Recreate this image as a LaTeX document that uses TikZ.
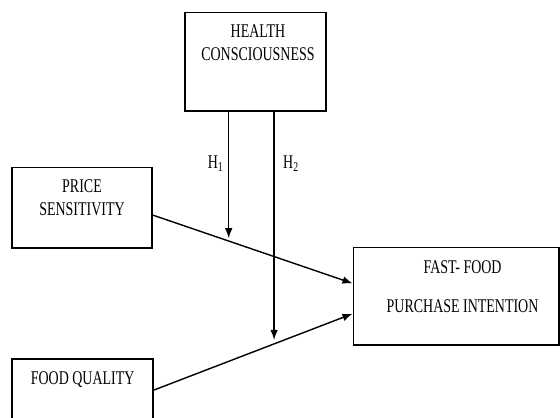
\documentclass[tikz,border=0pt]{standalone}
\usepackage{fontspec}
\setmainfont[FakeStretch=0.72]{Liberation Serif}
\usetikzlibrary{arrows.meta,positioning}

\begin{document}
\begin{tikzpicture}[
  box/.style={draw, rectangle, line width=1.2pt, inner sep=0pt},
  txt/.style={align=center, inner sep=0pt, font=\fontsize{13.8pt}{16.3pt}\selectfont},
  edge/.style={-{Latex[length=2.5mm,width=1.9mm]}, line width=1pt},
  hyp/.style={inner sep=1pt, font=\fontsize{13.8pt}{16pt}\selectfont}
]
\clip (0,0) rectangle (14,-10.45);

% Construct boxes
\node[box, minimum width=3.525cm, minimum height=2.46cm] (health) at (6.39,-1.546) {};
\node[box, minimum width=3.515cm, minimum height=2.005cm] (price) at (2.05,-5.19) {};
\node[box, minimum width=5.14cm, minimum height=2.44cm] (fast) at (11.404,-7.404) {};
\node[box, minimum width=3.53cm, minimum height=2cm] (food) at (2.066,-9.975) {};

% Box texts (top aligned)
\node[txt, below=0.32cm of health.north, xshift=0.06cm] (healthtxt) {HEALTH\\CONSCIOUSNESS};
\node[txt, below=0.32cm of price.north] (pricetxt) {PRICE\\SENSITIVITY};
\node[txt, below=0.335cm of fast.north, xshift=0.16cm] (fasttxt) {FAST- FOOD\\[11.9pt]PURCHASE INTENTION};
\node[txt, below=0.32cm of food.north] (foodtxt) {FOOD QUALITY};

% Direct paths
\draw[edge] ([yshift=-0.19cm]price.east) -- ([yshift=0.32cm]fast.west)
  coordinate[pos=0.379] (m1);
\draw[edge] ([yshift=0.225cm]food.east) -- ([yshift=-0.44cm]fast.west)
  coordinate[pos=0.605] (m2);

% Moderating paths
\draw[edge, shorten >=0.07cm] (health.south -| m1) -- (m1);
\draw[edge, shorten >=0.1cm] (health.south -| m2) -- (m2);

% Hypothesis labels
\node[hyp] (h1) at (5.39,-4.08) {H\textsubscript{1}};
\node[hyp] (h2) at (7.275,-4.08) {H\textsubscript{2}};

\end{tikzpicture}
\end{document}
